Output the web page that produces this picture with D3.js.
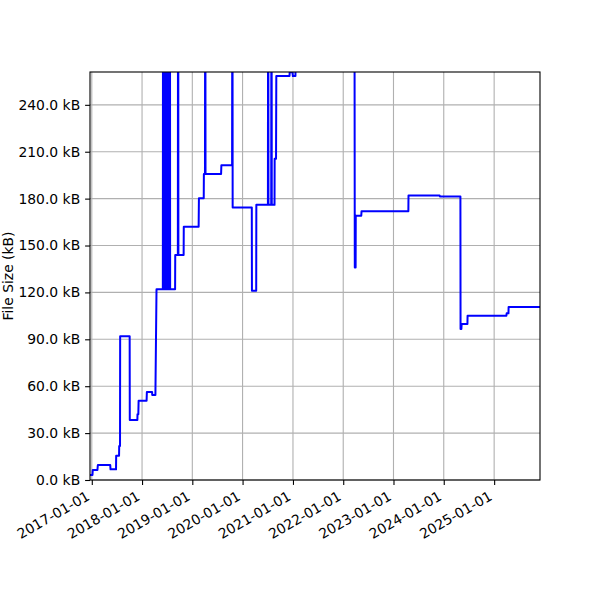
<!DOCTYPE html>
<html>
<head>
<meta charset="utf-8">
<script src="https://cdn.jsdelivr.net/npm/d3@7"></script>
<style>
  body { margin: 0; background: #fff; }
  text { font-family: "DejaVu Sans", sans-serif; font-size: 13.9px; fill: #000; }
</style>
</head>
<body>
<svg id="chart"></svg>
<script>
/* data: sample dates and file size in kB */
var dates = [
  '2016-12-19','2017-01-06','2017-01-08','2017-02-11','2017-02-14','2017-05-15',
  '2017-05-17','2017-06-26','2017-06-27','2017-07-18','2017-07-19','2017-07-25',
  '2017-07-26','2017-10-03','2017-10-04','2017-11-28','2017-11-29','2017-12-05',
  '2017-12-07','2018-02-03','2018-02-05','2018-03-15','2018-03-16','2018-04-08',
  '2018-04-16','2018-06-01',
  '2018-06-02','2018-06-05','2018-06-06','2018-06-09','2018-06-10','2018-06-13',
  '2018-06-14','2018-06-17','2018-06-18','2018-06-21','2018-06-22','2018-06-25',
  '2018-06-26','2018-06-29','2018-06-30','2018-07-03','2018-07-04','2018-07-07',
  '2018-07-08','2018-07-11','2018-07-12','2018-07-15','2018-07-16','2018-07-19',
  '2018-07-20','2018-07-23','2018-07-24',
  '2018-08-29','2018-08-30','2018-09-18','2018-09-19','2018-09-21','2018-09-22',
  '2018-10-30','2018-10-31','2019-02-16','2019-02-18','2019-03-25','2019-03-26',
  '2019-04-03','2019-04-04','2019-04-06','2019-04-07','2019-07-29','2019-07-31',
  '2019-10-17','2019-10-18','2019-10-20','2019-10-21','2020-03-08','2020-03-09',
  '2020-04-09','2020-04-10','2020-07-03','2020-07-04','2020-07-06','2020-07-07',
  '2020-07-27','2020-07-28','2020-07-30','2020-07-31','2020-08-20','2020-08-21',
  '2020-08-31','2020-09-02','2020-12-07','2020-12-08','2020-12-29','2020-12-31',
  '2021-01-19','2021-01-21','2022-03-24','2022-03-26','2022-04-01','2022-04-02',
  '2022-05-12','2022-05-14','2023-04-19','2023-04-20','2023-12-02','2023-12-04',
  '2024-05-01','2024-05-02','2024-05-08','2024-05-10','2024-06-21','2024-06-22',
  '2025-03-31','2025-04-02','2025-04-15','2025-04-16','2025-11-30'
];
var sizes = [
  3.2, 3.2, 6.4, 6.4, 9.6, 9.6,
  6.8, 6.8, 15.5, 15.5, 21.7, 21.7,
  92, 92, 38.4, 38.4, 42, 42,
  50.7, 50.7, 56.3, 56.3, 54.4, 54.4,
  122, 122,
  300, 300, 122, 122, 300, 300,
  122, 122, 300, 300, 122, 122,
  300, 300, 122, 122, 300, 300,
  122, 122, 300, 300, 122, 122,
  300, 300, 122,
  122, 144, 144, 300, 300, 144,
  144, 162, 162, 180.2, 180.2, 195.7,
  195.7, 300, 300, 195.7, 195.7, 201.3,
  201.3, 300, 300, 174.4, 174.4, 121,
  121, 176, 176, 300, 300, 176,
  176, 300, 300, 176, 176, 205.5,
  205.5, 258.4, 258.4, 260.8, 260.8, 258.4,
  258.4, 300, 300, 136, 136, 169,
  169, 172, 172, 182, 182, 181.3,
  181.3, 96.6, 96.6, 99.8, 99.8, 105.1,
  105.1, 106.6, 106.6, 110.7, 110.7
];
var yTicks = [0, 30, 60, 90, 120, 150, 180, 210, 240];
var xTicks = ['2017-01-01','2018-01-01','2019-01-01','2020-01-01','2021-01-01',
              '2022-01-01','2023-01-01','2024-01-01','2025-01-01'];
var yLegend = 'File Size (kB)';
var yMax = 261;

/* settings */
var width = 600,
    height = 600,
    margin = { top: 72, bottom: 120, left: 90, right: 60 },
    innerWidth = width - margin.left - margin.right,
    innerHeight = height - margin.top - margin.bottom,
    tickSize = 4.9,
    tickPad = 4.9,
    parseDate = d3.timeParse('%Y-%m-%d');

var data = dates.map(function (d, i){ return { date: parseDate(d), size: sizes[i] }; });

var svg = d3.select('#chart')
    .attr('width', width)
    .attr('height', height);

var g = svg.append('g')
    .attr('transform', 'translate(' + margin.left + ',' + margin.top + ')');

/* scales */
var xScale = d3.scaleTime()
    .domain(d3.extent(data, function (d){ return d.date; }))
    .range([0, innerWidth]);

var yScale = d3.scaleLinear()
    .domain([0, yMax])
    .range([innerHeight, 0]);

/* grid */
g.append('g').selectAll('line')
  .data(xTicks)
  .enter().append('line')
    .attr('x1', function (d){ return xScale(parseDate(d)); })
    .attr('x2', function (d){ return xScale(parseDate(d)); })
    .attr('y1', 0)
    .attr('y2', innerHeight)
    .attr('stroke', '#b0b0b0')
    .attr('stroke-width', 1.1);

g.append('g').selectAll('line')
  .data(yTicks)
  .enter().append('line')
    .attr('x1', 0)
    .attr('x2', innerWidth)
    .attr('y1', function (d){ return yScale(d); })
    .attr('y2', function (d){ return yScale(d); })
    .attr('stroke', '#b0b0b0')
    .attr('stroke-width', 1.1);

/* line, clipped to the axes box */
svg.append('clipPath').attr('id', 'clip')
  .append('rect')
    .attr('width', innerWidth)
    .attr('height', innerHeight);

var line = d3.line()
    .x(function (d){ return xScale(d.date); })
    .y(function (d){ return yScale(d.size); });

g.append('path')
    .datum(data)
    .attr('clip-path', 'url(#clip)')
    .attr('fill', 'none')
    .attr('stroke', '#0000ff')
    .attr('stroke-width', 2)
    .attr('stroke-linejoin', 'round')
    .attr('d', line);

/* y-axis */
var yAxis = d3.axisLeft(yScale)
    .tickValues(yTicks)
    .tickSize(tickSize)
    .tickPadding(tickPad)
    .tickFormat(function (d){ return d3.format('.1f')(d) + ' kB'; });

var yAxisG = g.append('g').call(yAxis);
yAxisG.select('.domain').remove();
yAxisG.selectAll('line').attr('stroke', '#000').attr('stroke-width', 1.1);
yAxisG.selectAll('text')
    .attr('font-family', '"DejaVu Sans", sans-serif')
    .attr('font-size', '13.9px');

/* x-axis */
var xAxis = d3.axisBottom(xScale)
    .tickValues(xTicks.map(parseDate))
    .tickSize(tickSize)
    .tickFormat(d3.timeFormat('%Y-%m-%d'));

var xAxisG = g.append('g')
    .attr('transform', 'translate(0,' + innerHeight + ')')
    .call(xAxis);
xAxisG.select('.domain').remove();
xAxisG.selectAll('line').attr('stroke', '#000').attr('stroke-width', 1.1);
xAxisG.selectAll('text')
    .attr('font-family', '"DejaVu Sans", sans-serif')
    .attr('font-size', '13.9px')
    .attr('y', 0)
    .attr('dy', 0)
    .attr('transform', 'translate(-1.6,19) rotate(-30)')
    .style('text-anchor', 'end');

/* axes box */
g.append('rect')
    .attr('width', innerWidth)
    .attr('height', innerHeight)
    .attr('fill', 'none')
    .attr('stroke', '#000')
    .attr('stroke-width', 1.1);

/* axis legend */
svg.append('text')
    .attr('transform', 'translate(13,' + (margin.top + innerHeight / 2) + ') rotate(-90)')
    .style('text-anchor', 'middle')
    .text(yLegend);
</script>
</body>
</html>
